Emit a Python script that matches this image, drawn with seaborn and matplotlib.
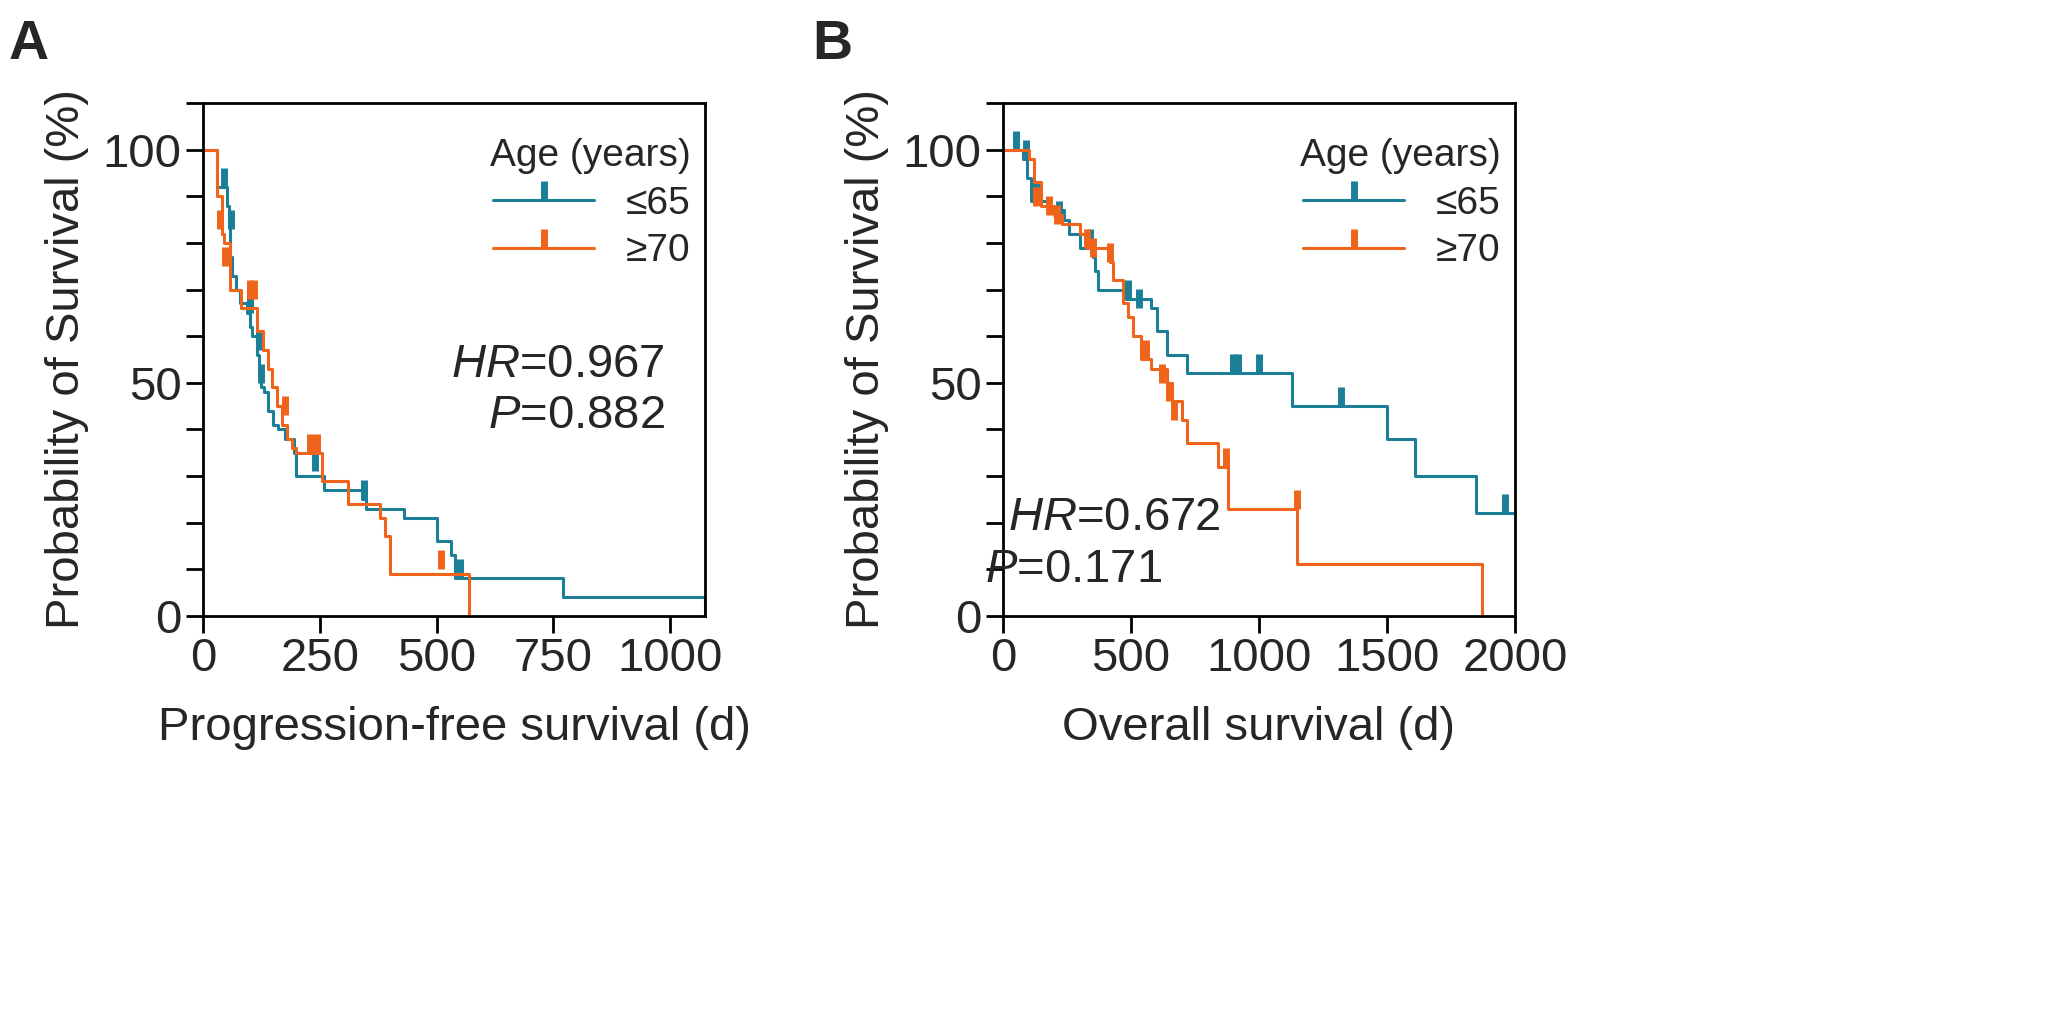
import numpy as np
import pandas as pd
import matplotlib
matplotlib.use('Agg')
import matplotlib.pyplot as plt
from matplotlib.lines import Line2D
from matplotlib.ticker import MultipleLocator
import seaborn as sns

# ── data ─────────────────────────────────────────────────
TEAL = '#1a7f97'
ORANGE = '#f0631a'

# Panel A: progression-free survival (step points: time, survival %)
pfs_young_t = [0, 30, 51, 55, 58, 62, 70, 80, 95, 100, 105, 115, 120, 125, 130, 140, 150, 160, 175, 195, 200, 260, 340, 350, 430, 500, 530, 540, 770, 1075]
pfs_young_s = [100, 92, 88, 84, 77, 73, 70, 67, 65, 62, 60, 56, 52, 49, 48, 44, 41, 40, 38, 35, 30, 27, 25, 23, 21, 16, 13, 8, 4, 0]
pfs_young_ct = [45, 60, 100, 120, 125, 240, 345, 550]
pfs_young_cs = [92, 83, 65, 57, 50, 31, 25, 8]

pfs_old_t = [0, 30, 40, 45, 57, 81, 116, 129, 140, 148, 159, 170, 181, 191, 199, 255, 310, 380, 390, 400, 570]
pfs_old_s = [100, 90, 82, 80, 70, 66, 61, 57, 53, 49, 45, 41, 38, 36, 35, 29, 24, 21, 17, 9, 0]
pfs_old_ct = [37, 48, 100, 110, 175, 230, 245, 510]
pfs_old_cs = [83, 75, 68, 68, 43, 35, 35, 10]

# Panel B: overall survival
os_young_t = [0, 80, 95, 110, 175, 240, 260, 300, 350, 360, 370, 480, 580, 600, 640, 720, 1130, 1500, 1610, 1850, 2000]
os_young_s = [100, 98, 94, 89, 87, 85, 82, 79, 77, 74, 70, 68, 66, 61, 56, 52, 45, 38, 30, 22, 22]
os_young_ct = [50, 90, 130, 220, 340, 490, 530, 900, 920, 1000, 1320, 1960]
os_young_cs = [100, 98, 89, 85, 79, 68, 66, 52, 52, 52, 45, 22]

os_old_t = [0, 100, 120, 150, 200, 230, 300, 330, 420, 430, 470, 490, 510, 540, 580, 640, 660, 700, 720, 840, 880, 1150, 1870]
os_old_s = [100, 98, 93, 88, 86, 84, 82, 79, 76, 72, 67, 64, 60, 55, 53, 50, 46, 42, 37, 32, 23, 11, 0]
os_old_ct = [130, 180, 210, 330, 350, 420, 560, 620, 650, 670, 870, 1150]
os_old_cs = [88, 86, 84, 79, 77, 76, 55, 50, 46, 42, 32, 23]

GROUPS = ['≤65', '≥70']

# ── style ────────────────────────────────────────────────
sns.set_theme(style='ticks')
plt.rcParams['font.family'] = ['Liberation Sans', 'DejaVu Sans']
plt.rcParams['mathtext.fontset'] = 'custom'
plt.rcParams['mathtext.rm'] = 'Liberation Sans'
plt.rcParams['mathtext.it'] = 'Liberation Sans:italic'

fig = plt.figure(figsize=(20.56, 10.11), dpi=100)
axA = fig.add_axes([0.0987, 0.391, 0.2443, 0.507])
axB = fig.add_axes([0.4878, 0.391, 0.2490, 0.507])


def draw_km(ax, t, s, ct, cs, color):
    df = pd.DataFrame({'t': t, 's': s})
    sns.lineplot(data=df, x='t', y='s', ax=ax, color=color, lw=2.2,
                 drawstyle='steps-post', estimator=None, sort=False)
    ax.plot(ct, cs, ls='none', marker=2, ms=14, mew=5, color=color)


def style_axis(ax, xmax, xstep, xlabel):
    ax.set_xlim(0, xmax)
    ax.set_ylim(0, 110)
    ax.xaxis.set_major_locator(MultipleLocator(xstep))
    ax.yaxis.set_major_locator(MultipleLocator(50))
    ax.yaxis.set_minor_locator(MultipleLocator(10))
    ax.tick_params(axis='both', which='major', labelsize=34, width=2, length=12, color='black')
    ax.tick_params(axis='y', which='minor', width=2, length=12, color='black')
    for sp in ax.spines.values():
        sp.set_linewidth(2)
        sp.set_color('black')
    ax.set_xlabel(xlabel, fontsize=34, labelpad=18)
    ax.set_ylabel('Probability of Survival (%)', fontsize=34, labelpad=10)
    leg = ax.legend([Line2D([0], [0], color=TEAL, lw=2.2, marker=2, ms=14, mew=5),
                     Line2D([0], [0], color=ORANGE, lw=2.2, marker=2, ms=14, mew=5)],
                    GROUPS, title='Age (years)', fontsize=28, title_fontsize=28,
                    frameon=False, loc='upper right', bbox_to_anchor=(1.04, 1.0),
                    handlelength=2.6, labelspacing=0.3)
    leg._legend_box.align = 'right'


draw_km(axA, pfs_young_t, pfs_young_s, pfs_young_ct, pfs_young_cs, TEAL)
draw_km(axA, pfs_old_t, pfs_old_s, pfs_old_ct, pfs_old_cs, ORANGE)
style_axis(axA, 1075, 250, 'Progression-free survival (d)')
axA.text(0.92, 0.49, r'$\it{HR}$=0.967', transform=axA.transAxes, ha='right', va='center', fontsize=34)
axA.text(0.92, 0.39, r'$\it{P}$=0.882', transform=axA.transAxes, ha='right', va='center', fontsize=34)

draw_km(axB, os_young_t, os_young_s, os_young_ct, os_young_cs, TEAL)
draw_km(axB, os_old_t, os_old_s, os_old_ct, os_old_cs, ORANGE)
style_axis(axB, 2000, 500, 'Overall survival (d)')
axB.text(0.01, 0.19, r'$\it{HR}$=0.672', transform=axB.transAxes, ha='left', va='center', fontsize=34)
axB.text(0.31, 0.09, r'$\it{P}$=0.171', transform=axB.transAxes, ha='right', va='center', fontsize=34)

fig.text(0.004, 0.955, 'A', fontsize=40, fontweight='bold', va='center')
fig.text(0.395, 0.955, 'B', fontsize=40, fontweight='bold', va='center')

fig.savefig('out.png', dpi=100, facecolor='white')
